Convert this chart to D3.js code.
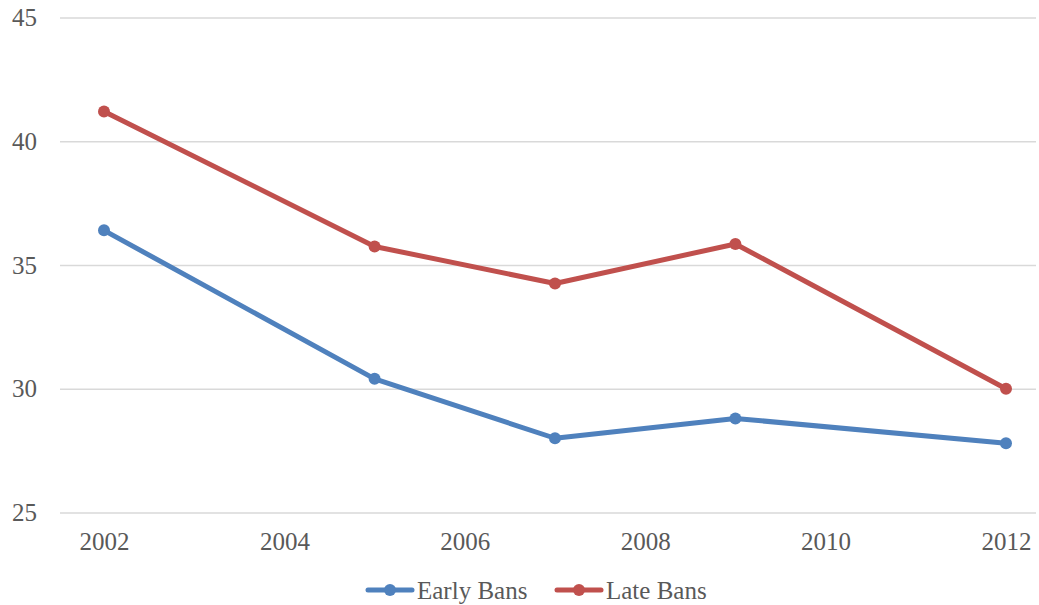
<!DOCTYPE html>
<html>
<head>
<meta charset="utf-8">
<script src="https://cdn.jsdelivr.net/npm/d3@7"></script>
<style>
  html, body { margin: 0; padding: 0; background: #fff; }
  svg { display: block; }
  text { font-family: "Liberation Serif", "Times New Roman", serif; fill: #595959; }
</style>
</head>
<body>
<svg id="chart" width="1039" height="605"></svg>
<script>
// Survey years and values per group
const years = [2002, 2005, 2007, 2009, 2012];
const earlyBans = [36.4, 30.4, 28.0, 28.8, 27.8];
const lateBans = [41.2, 35.75, 34.25, 35.85, 30.0];
const yTicks = [25, 30, 35, 40, 45];
const xTicks = [2002, 2004, 2006, 2008, 2010, 2012];

const series = [
  { name: "Early Bans", values: earlyBans, color: "#4f81bd" },
  { name: "Late Bans", values: lateBans, color: "#c0504d" }
];

const W = 1039, H = 605;
const svg = d3.select("#chart");

const x = d3.scaleLinear().domain([2002, 2012]).range([104, 1006]);
const y = d3.scaleLinear().domain([25, 45]).range([512.5, 17.5]);

// Horizontal gridlines
const yAxis = d3.axisLeft(y).tickValues(yTicks).tickSize(-(1036 - 60)).tickPadding(23).tickFormat(d3.format("d"));
const gy = svg.append("g").attr("transform", "translate(60,0)").call(yAxis);
gy.select(".domain").remove();
gy.selectAll(".tick line").attr("stroke", "#d9d9d9").attr("stroke-width", 1.5);
gy.selectAll(".tick text").attr("font-size", 25).attr("fill", "#595959")
  .attr("font-family", "Liberation Serif, Times New Roman, serif");

// Year axis labels
const xAxis = d3.axisBottom(x).tickValues(xTicks).tickSize(0).tickPadding(20).tickFormat(d3.format("d"));
const gx = svg.append("g").attr("transform", "translate(0,512.5)").call(xAxis);
gx.select(".domain").remove();
gx.selectAll(".tick text").attr("font-size", 25).attr("fill", "#595959")
  .attr("font-family", "Liberation Serif, Times New Roman, serif");

// Lines and markers
const line = d3.line().x((d, i) => x(years[i])).y(d => y(d));
series.forEach(s => {
  svg.append("path")
    .attr("d", line(s.values))
    .attr("fill", "none")
    .attr("stroke", s.color)
    .attr("stroke-width", 5)
    .attr("stroke-linejoin", "round")
    .attr("stroke-linecap", "round");
  svg.selectAll(null).data(s.values).enter().append("circle")
    .attr("cx", (d, i) => x(years[i]))
    .attr("cy", d => y(d))
    .attr("r", 6)
    .attr("fill", s.color);
});

// Legend
const legend = svg.append("g").attr("transform", "translate(0,590)");
const legendX = [368, 557];
series.forEach((s, i) => {
  const g = legend.append("g").attr("transform", `translate(${legendX[i]},0)`);
  g.append("line").attr("x1", 0).attr("x2", 44).attr("y1", 0).attr("y2", 0)
    .attr("stroke", s.color).attr("stroke-width", 5).attr("stroke-linecap", "round");
  g.append("circle").attr("cx", 22).attr("cy", 0).attr("r", 6).attr("fill", s.color);
  g.append("text").attr("x", 49).attr("y", 0).attr("dy", "0.35em")
    .attr("font-size", 25).text(s.name);
});
</script>
</body>
</html>
